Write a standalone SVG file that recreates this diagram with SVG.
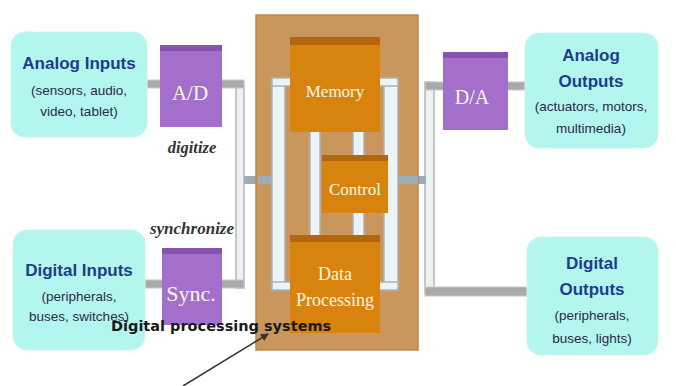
<svg xmlns="http://www.w3.org/2000/svg" width="676" height="386" viewBox="0 0 676 386">
<defs>
<style>
.cyan{fill:#b3f6ee;stroke:#c9f4ee;stroke-width:1}
.ttl{font-family:"Liberation Sans",Arial,sans-serif;font-weight:bold;font-size:17px;fill:#1e3c8c;text-anchor:middle}
.sub{font-family:"Liberation Sans",Arial,sans-serif;font-size:13.5px;fill:#2a2a4a;text-anchor:middle}
.purp{fill:#a36fcb}
.purptop{fill:#8753ae}
.org{fill:#d9830f}
.orgtop{fill:#b5660c}
.wt{font-family:"Liberation Serif","Times New Roman",serif;fill:#fff6e6;text-anchor:middle}
.it{font-family:"Liberation Serif","Times New Roman",serif;font-style:italic;font-weight:bold;fill:#333;text-anchor:middle}
.vbar{fill:#eef1f2;stroke:#b4b8ba;stroke-width:1.5}
.hbar{fill:#a9a9a9;stroke:#c8c8c8;stroke-width:1}
.ibar{fill:#eef3f6;stroke:#a8b4bc;stroke-width:1.5}
.hib{fill:#9eacb6}
</style>
<marker id="ah" markerWidth="8" markerHeight="8" refX="7" refY="4" orient="auto" markerUnits="userSpaceOnUse">
<path d="M0,0 L8,4 L0,8 Z" fill="#333"/>
</marker>
</defs>
<rect width="676" height="386" fill="#ffffff"/>

<g id="connectors">
<rect class="vbar" x="236" y="84" width="8" height="204"/>
<rect class="hbar" x="147" y="80" width="14" height="8"/>
<rect class="hbar" x="221" y="80" width="23" height="8"/>
<rect class="hbar" x="145" y="280" width="18" height="8"/>
<rect class="hbar" x="221" y="280" width="23" height="8"/>
<rect class="hib" x="244" y="176" width="14" height="8"/>
<rect class="vbar" x="425" y="82" width="9" height="211"/>
<rect class="hbar" x="425" y="82" width="19" height="8"/>
<rect class="hbar" x="507" y="82" width="19" height="8"/>
<rect class="hbar" x="425" y="287" width="103" height="9"/>
<rect class="hib" x="418" y="176" width="8" height="8"/>
</g>

<g id="dps">
<rect x="256" y="15" width="162" height="335" fill="#c9975c" stroke="#b9884d" stroke-width="1.5"/>
<rect class="hib" x="258" y="176" width="16" height="8"/>
<rect class="hib" x="397" y="176" width="21" height="8"/>
<rect class="ibar" x="272" y="78" width="13" height="212"/>
<rect class="ibar" x="272" y="78" width="20" height="8"/>
<rect class="ibar" x="272" y="282" width="20" height="8"/>
<rect class="ibar" x="384" y="78" width="14" height="212"/>
<rect class="ibar" x="378" y="78" width="20" height="8"/>
<rect class="ibar" x="378" y="282" width="20" height="8"/>
<rect class="ibar" x="310" y="130" width="10" height="110"/>
<rect class="ibar" x="353" y="130" width="11" height="110"/>
</g>

<g id="memory">
<rect class="org" x="290" y="37" width="90" height="95"/>
<rect class="orgtop" x="290" y="37" width="90" height="8"/>
<text class="wt" x="335" y="97" font-size="17">Memory</text>
</g>

<g id="control">
<rect class="org" x="322" y="155" width="66" height="58"/>
<rect class="orgtop" x="322" y="155" width="66" height="6"/>
<text class="wt" x="355" y="195" font-size="17">Control</text>
</g>

<g id="data-processing">
<rect class="org" x="290" y="235" width="90" height="98"/>
<rect class="orgtop" x="290" y="235" width="90" height="7"/>
<text class="wt" x="335" y="280" font-size="18">Data</text>
<text class="wt" x="335" y="306" font-size="18">Processing</text>
</g>

<g id="analog-inputs">
<rect class="cyan" x="11" y="32" width="136" height="105" rx="14"/>
<text class="ttl" x="79" y="69">Analog Inputs</text>
<text class="sub" x="79" y="95">(sensors, audio,</text>
<text class="sub" x="79" y="116">video, tablet)</text>
</g>

<g id="ad">
<rect class="purp" x="160" y="45" width="62" height="82"/>
<path class="purptop" d="M160,45 L222,45 L222,51 L160,51 Z"/>
<text class="wt" x="190" y="100" font-size="21">A/D</text>
</g>
<text class="it" x="192" y="153" font-size="16.5">digitize</text>

<g id="digital-inputs">
<rect class="cyan" x="13" y="230" width="132" height="120" rx="14"/>
<text class="ttl" x="79" y="276">Digital Inputs</text>
<text class="sub" x="79" y="301">(peripherals,</text>
<text class="sub" x="79" y="321">buses, switches)</text>
</g>

<g id="sync">
<rect class="purp" x="162" y="248" width="60" height="77"/>
<path class="purptop" d="M162,248 L222,248 L222,254 L162,254 Z"/>
<text class="wt" x="191" y="301" font-size="22">Sync.</text>
</g>
<text class="it" x="192" y="234" font-size="17">synchronize</text>

<g id="da">
<rect class="purp" x="443" y="52" width="65" height="78"/>
<path class="purptop" d="M443,52 L508,52 L508,58 L443,58 Z"/>
<text class="wt" x="472" y="104" font-size="20">D/A</text>
</g>

<g id="analog-outputs">
<rect class="cyan" x="525" y="33" width="133" height="115" rx="14"/>
<text class="ttl" x="591" y="61">Analog</text>
<text class="ttl" x="591" y="87">Outputs</text>
<text class="sub" x="591" y="111">(actuators, motors,</text>
<text class="sub" x="591" y="133">multimedia)</text>
</g>

<g id="digital-outputs">
<rect class="cyan" x="527" y="237" width="131" height="118" rx="14"/>
<text class="ttl" x="592" y="269">Digital</text>
<text class="ttl" x="592" y="295">Outputs</text>
<text class="sub" x="592" y="320">(peripherals,</text>
<text class="sub" x="592" y="343">buses, lights)</text>
</g>

<g id="label">
<text x="111" y="331" font-family="DejaVu Sans,Verdana,sans-serif" font-size="14.5" font-weight="bold" fill="#1a1a1a">Digital processing  systems</text>
<line x1="183" y1="386" x2="268" y2="334" stroke="#333" stroke-width="1.5" marker-end="url(#ah)"/>
</g>
</svg>
